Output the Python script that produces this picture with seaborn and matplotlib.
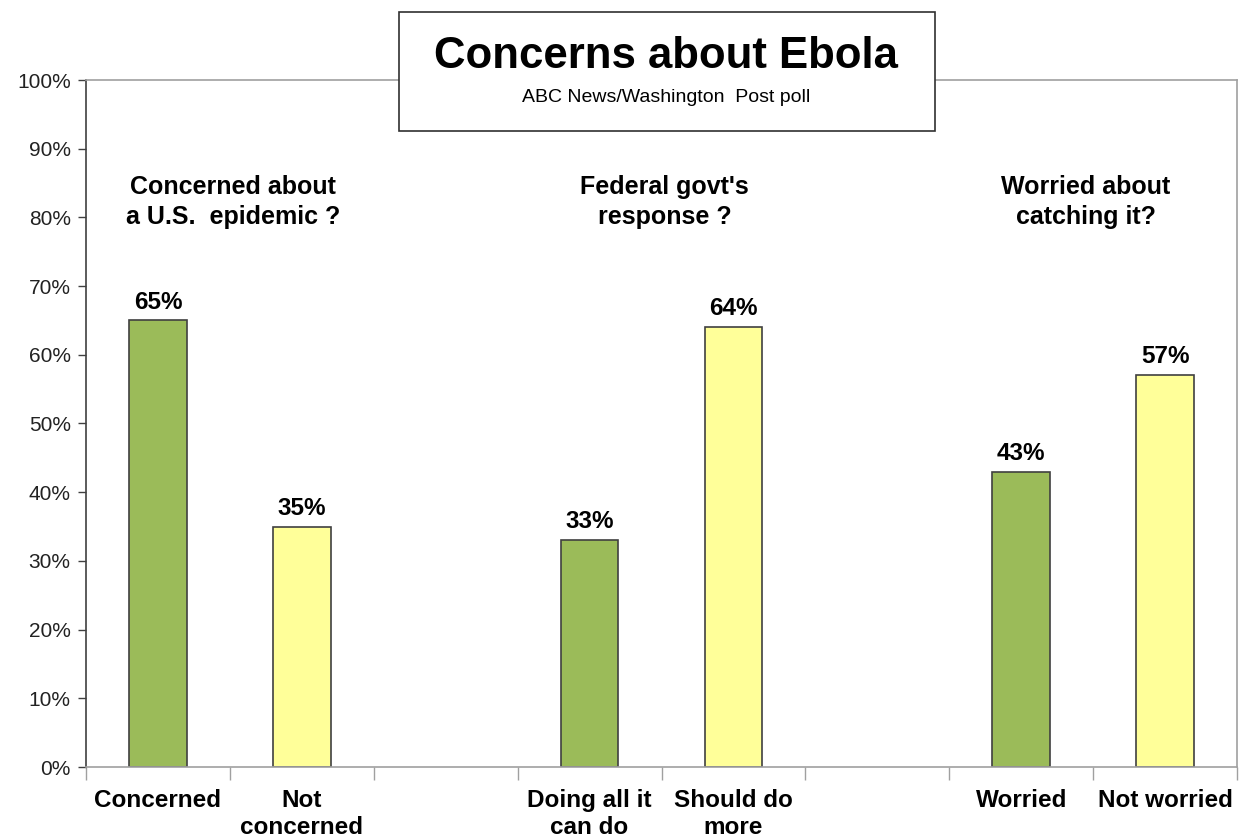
import matplotlib
matplotlib.use("Agg")
import matplotlib.pyplot as plt
import seaborn as sns
import pandas as pd
from matplotlib.patches import Rectangle

# ---- data ----
categories = ["Concerned", "Not concerned", "Doing all it can do", "Should do more",
              "Worried", "Not worried"]
values = [65, 35, 33, 64, 43, 57]
answer_type = ["yes", "no", "yes", "no", "yes", "no"]
slot_order = ["Concerned", "Not concerned", "_gap1", "Doing all it can do", "Should do more",
              "_gap2", "Worried", "Not worried"]
slot_labels = ["Concerned", "Not\nconcerned", "", "Doing all it\ncan do", "Should do\nmore",
               "", "Worried", "Not worried"]
group_titles = ["Concerned about\na U.S.  epidemic ?", "Federal govt's\nresponse ?",
                "Worried about\ncatching it?"]
group_title_pos = [0.52, 3.52, 6.45]
yticks = list(range(0, 101, 10))
title = "Concerns about Ebola"
subtitle = "ABC News/Washington  Post poll"

df = pd.DataFrame({"category": categories, "value": values, "type": answer_type})

sns.set_theme(style="white")
plt.rcParams["font.family"] = ["Liberation Sans", "DejaVu Sans"]
plt.rcParams["text.color"] = "black"

fig = plt.figure(figsize=(12.39, 8.38), dpi=100)
ax = fig.add_axes([86 / 1239, (838 - 767) / 838, (1237 - 86) / 1239, (767 - 80) / 838])

palette = {"yes": "#9BBB59", "no": "#FFFF99"}
sns.barplot(data=df, x="category", y="value", hue="type", order=slot_order,
            palette=palette, saturation=1, width=0.4, dodge=False, legend=False,
            edgecolor="#404040", linewidth=1.2, ax=ax)

ax.set_xlim(-0.5, 7.5)
ax.set_ylim(0, 100)
ax.set_xlabel("")
ax.set_ylabel("")

# y axis
ax.set_yticks(yticks)
ax.set_yticklabels([f"{t}%" for t in yticks], fontsize=15, color="#222222")
ax.tick_params(axis="y", direction="out", length=6, width=1, color="#404040", left=True, pad=5)

# x axis: ticks at slot boundaries, labels at slot centers
ax.set_xticks([i - 0.5 for i in range(9)])
ax.set_xticklabels([])
ax.tick_params(axis="x", which="major", direction="out", length=9, width=1, color="#A0A0A0",
               bottom=True)
ax.set_xticks(range(8), minor=True)
ax.set_xticklabels(slot_labels, minor=True, fontsize=17.5, fontweight="bold",
                   linespacing=1.2, color="black")
ax.tick_params(axis="x", which="minor", length=0, pad=16)

# spines
for side in ["top", "right", "bottom"]:
    ax.spines[side].set_color("#A0A0A0")
    ax.spines[side].set_linewidth(1.2)
ax.spines["left"].set_color("#404040")
ax.spines["left"].set_linewidth(1.2)
ax.grid(False)

# value labels
for cat, val in zip(categories, values):
    xi = slot_order.index(cat)
    ax.annotate(f"{val}%", xy=(xi, val), xytext=(0, 5), textcoords="offset points",
                ha="center", va="bottom", fontsize=17.5, fontweight="bold", color="black")

# group headings
for xpos, txt in zip(group_title_pos, group_titles):
    ax.text(xpos, 82.2, txt, ha="center", va="center", multialignment="center",
            fontsize=18, fontweight="bold", color="black", linespacing=1.3)

# title box
box = Rectangle((399 / 1239, 1 - 131 / 838), (935 - 399) / 1239, (131 - 12) / 838,
                transform=fig.transFigure, facecolor="white", edgecolor="#303030",
                linewidth=1.2, zorder=5)
fig.patches.append(box)
fig.text(666 / 1239, 1 - 57 / 838, title, ha="center", va="center", fontsize=31.5,
         fontweight="bold", color="black", zorder=6)
fig.text(666 / 1239, 1 - 98 / 838, subtitle, ha="center", va="center", fontsize=14,
         color="black", zorder=6)

fig.savefig("out.png", dpi=100)
